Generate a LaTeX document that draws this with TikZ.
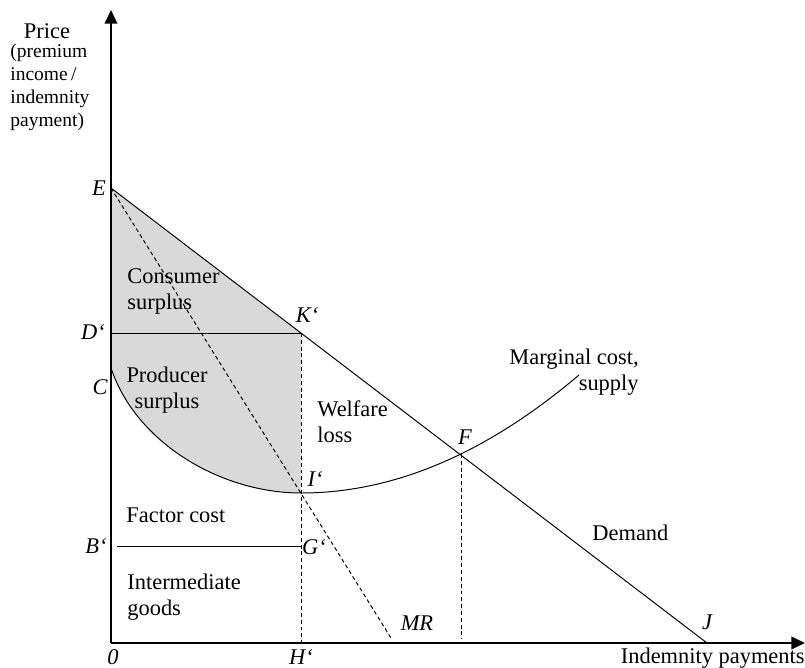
\documentclass[tikz,border=0pt]{standalone}
\usepackage{fontspec}
\setmainfont{Liberation Serif}
\usetikzlibrary{positioning, arrows.meta}
\newcommand{\lblsize}{\fontsize{11.5}{13.3}\selectfont}
\newcommand{\smallsize}{\fontsize{10}{11.8}\selectfont}
\tikzset{
axis/.style={line width=0.75pt, -{Triangle[length=7pt, width=6.5pt]}},
curve/.style={line width=0.5pt},
guide/.style={line width=0.5pt, dash pattern=on 2pt off 1.5pt},
surplus/.style={fill=gray!30},
pt/.style={font=\lblsize\itshape, inner sep=0pt},
txt/.style={font=\lblsize, inner sep=0pt},
}

\begin{document}
\begin{tikzpicture}[x=0.01802cm, y=0.01802cm]
    \useasboundingbox (-111,-24) rectangle (694,643);
    % points of the diagram
    \coordinate (O) at (0,0);
    \coordinate (ytop) at (0,633);
    \coordinate (xend) at (694,0);
    \coordinate (E) at (0,455);
    \coordinate (J) at (596,0);
    \coordinate (Dp) at (0,310);
    \coordinate (Kp) at (190,310);
    \coordinate (C) at (0,275);
    \coordinate (Ip) at (190,150);
    \coordinate (F) at (350,189);
    \coordinate (S) at (468,268);
    \coordinate (Bp) at (6,97);
    \coordinate (Gp) at (190,97);
    \coordinate (Hp) at (190,0);
    \coordinate (M) at (280,5);
    \coordinate (Fb) at (350,4);
    % surplus area
    \fill[surplus] (E) -- (Kp) -- (Ip) .. controls (110,150) and (25,200) .. (C) -- cycle;
    % curves and lines
    \draw[curve] (C) .. controls (25,200) and (110,150) .. (Ip)
        .. controls (282.7,150) and (375.3,189.3) .. (S);
    \draw[curve] (E) -- (J);
    \draw[curve] (Dp) -- (Kp);
    \draw[curve] (Bp) -- (Gp);
    \draw[guide] (Kp) -- (Hp);
    \draw[guide] (E) -- (M);
    \draw[guide] (F) -- (Fb);
    \draw[axis] (O) -- (ytop);
    \draw[axis] (O) -- (xend);
    % point labels
    \node[pt] (Elbl) at (-12,455) {E};
    \node[pt] (Dlbl) at (-18,311) {D‘};
    \node[pt] (Clbl) at (-11,256) {C};
    \node[pt] (Blbl) at (-15,97) {B‘};
    \node[pt] (Olbl) at (2,-14) {0};
    \node[pt] (Hlbl) at (190,-14) {H‘};
    \node[pt] (Klbl) at (196,328) {K‘};
    \node[pt] (Ilbl) at (204,164) {I‘};
    \node[pt] (Flbl) at (354,206) {F};
    \node[pt] (Glbl) at (203,96) {G‘};
    \node[pt] (MRlbl) at (306,20) {MR};
    \node[pt] (Jlbl) at (596,21) {J};
    % area and axis texts
    \node[txt] (price) at (-64,612) {Price};
    \node[txt, font=\smallsize, align=left, anchor=west] (unit) at (-101,556)
        {(premium\\income\,/\\indemnity\\payment)};
    \node[txt, anchor=base east] (xlbl) at (694,-20) {Indemnity payments};
    \node[txt, align=left, anchor=west] (cons) at (16,352) {Consumer\\surplus};
    \node[txt, align=center] (prod) at (56,253) {Producer\\surplus};
    \node[txt, align=left, anchor=west] (loss) at (206,221) {Welfare\\loss};
    \node[txt, anchor=west] (factor) at (15,128) {Factor cost};
    \node[txt, align=left, anchor=west] (inter) at (16,46) {Intermediate\\goods};
    \node[txt, align=right, anchor=east] (mc) at (528,271) {Marginal cost,\\supply};
    \node[txt, anchor=west] (dem) at (481,110) {Demand};
\end{tikzpicture}
\end{document}
